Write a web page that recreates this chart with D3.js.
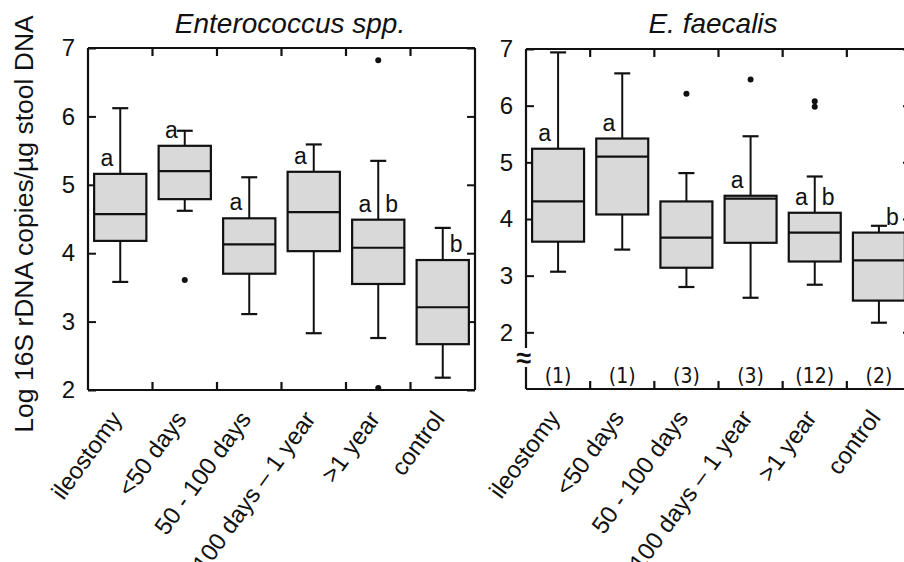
<!DOCTYPE html>
<html>
<head>
<meta charset="utf-8">
<script src="https://cdn.jsdelivr.net/npm/d3@7"></script>
<style>
  body { margin: 0; background: #fff; }
  text { font-family: "Liberation Sans", Arial, sans-serif; fill: #111; }
</style>
</head>
<body>
<div class="chart"></div>
<script>
// size of the picture
const w = 904;
const h = 562;

// categories shared by both panels
const groups = ["ileostomy", "<50 days", "50 - 100 days", "100 days \u2013 1 year", ">1 year", "control"];

// Enterococcus spp. (log copies)
const entLow    = [3.58, 4.62, 3.11, 2.83, 2.76, 2.18];
const entQ1     = [4.18, 4.79, 3.70, 4.03, 3.55, 2.67];
const entMedian = [4.57, 5.20, 4.13, 4.60, 4.08, 3.21];
const entQ3     = [5.16, 5.57, 4.51, 5.19, 4.49, 3.90];
const entHigh   = [6.12, 5.79, 5.11, 5.59, 5.35, 4.37];
const entOut    = [[], [3.61], [], [], [6.82, 2.03], []];
const entLettersL = ["a", "a", "a", "a", "a", ""];
const entLettersR = ["", "", "", "", "b", "b"];

// E. faecalis
const faeLow    = [3.07, 3.46, 2.80, 2.61, 2.84, 2.17];
const faeQ1     = [3.60, 4.08, 3.14, 3.58, 3.25, 2.56];
const faeMedian = [4.31, 5.10, 3.67, 4.36, 3.76, 3.27];
const faeQ3     = [5.24, 5.42, 4.31, 4.41, 4.11, 3.76];
const faeHigh   = [6.94, 6.57, 4.81, 5.46, 4.75, 3.88];
const faeOut    = [[], [], [6.21], [6.46], [6.08, 5.98], []];
const faeLettersL = ["a", "a", "", "a", "a", ""];
const faeLettersR = ["", "", "", "", "b", "b"];
const faeCounts = ["(1)", "(1)", "(3)", "(3)", "(12)", "(2)"];

const yTicks = [2, 3, 4, 5, 6, 7];

const svg = d3.select(".chart").append("svg")
  .attr("width", w)
  .attr("height", h)
  .style("display", "block");

svg.append("rect").attr("width", w).attr("height", h).attr("fill", "#fff");

// y axis title
svg.append("text")
  .attr("transform", "translate(33,224) rotate(-90)")
  .attr("text-anchor", "middle")
  .style("font-size", "26.5px")
  .text("Log 16S rDNA copies/\u00b5g stool DNA");

function rows(lo, q1, med, q3, hi, out, lL, lR) {
  return groups.map((g, i) => ({
    g: g, lo: lo[i], q1: q1[i], med: med[i], q3: q3[i], hi: hi[i],
    out: out[i], lL: lL[i], lR: lR[i]
  }));
}

function drawPanel(opt) {
  const x = d3.scaleBand().domain(groups).range([opt.left, opt.right]);
  const y = d3.scaleLinear().domain(opt.domain).range([opt.bottom, opt.top]);
  const g = svg.append("g");
  const bw = x.step() * 0.81;
  const cap = 16;

  // title
  g.append("text")
    .attr("x", opt.titleX)
    .attr("y", 33)
    .attr("text-anchor", "middle")
    .style("font-size", "28px")
    .style("font-style", "italic")
    .text(opt.title);

  // left axis with inward ticks
  const ax = g.append("g")
    .attr("transform", "translate(" + opt.left + ",0)")
    .call(d3.axisLeft(y).tickValues(yTicks).tickSize(-8).tickPadding(13).tickFormat(d3.format("d")));
  ax.select(".domain").remove();
  ax.selectAll("line").attr("stroke", "#111").attr("stroke-width", 2);
  ax.selectAll("text").style("font-size", "24px").attr("fill", "#111");

  // right axis ticks
  const ar = g.append("g")
    .attr("transform", "translate(" + opt.right + ",0)")
    .call(d3.axisRight(y).tickValues(yTicks).tickSize(-8).tickFormat(""));
  ar.select(".domain").remove();
  ar.selectAll("line").attr("stroke", "#111").attr("stroke-width", 2);

  // frame
  const fr = g.append("g").attr("stroke", "#111").attr("stroke-width", 2.2).attr("fill", "none");
  fr.append("line").attr("x1", opt.left).attr("x2", opt.right).attr("y1", opt.top).attr("y2", opt.top);
  fr.append("line").attr("x1", opt.left).attr("x2", opt.right).attr("y1", opt.bottom).attr("y2", opt.bottom);
  fr.append("line").attr("x1", opt.right).attr("x2", opt.right).attr("y1", opt.top).attr("y2", opt.bottom);
  if (opt.breakAt) {
    fr.append("line").attr("x1", opt.left).attr("x2", opt.left).attr("y1", opt.top).attr("y2", opt.breakAt[0]);
    fr.append("line").attr("x1", opt.left).attr("x2", opt.left).attr("y1", opt.breakAt[1]).attr("y2", opt.bottom);
    g.append("text")
      .attr("x", opt.left - 2)
      .attr("y", (opt.breakAt[0] + opt.breakAt[1]) / 2 + 9)
      .attr("text-anchor", "middle")
      .style("font-size", "27px")
      .style("font-weight", "bold")
      .text("\u2248");
  } else {
    fr.append("line").attr("x1", opt.left).attr("x2", opt.left).attr("y1", opt.top).attr("y2", opt.bottom);
  }

  // category boundary ticks
  groups.slice(1).forEach(c => {
    const xx = x(c);
    fr.append("line").attr("x1", xx).attr("x2", xx).attr("y1", opt.top).attr("y2", opt.top + 8);
    fr.append("line").attr("x1", xx).attr("x2", xx).attr("y1", opt.bottom).attr("y2", opt.bottom - 8);
  });

  const box = g.selectAll(".box")
    .data(opt.data)
    .enter().append("g")
    .attr("class", "box")
    .attr("transform", d => "translate(" + (x(d.g) + x.step() / 2) + ",0)");

  // whiskers
  box.append("line").attr("y1", d => y(d.hi)).attr("y2", d => y(d.lo))
    .attr("stroke", "#111").attr("stroke-width", 2);
  box.append("line").attr("x1", -cap / 2).attr("x2", cap / 2)
    .attr("y1", d => y(d.hi)).attr("y2", d => y(d.hi))
    .attr("stroke", "#111").attr("stroke-width", 2.2);
  box.append("line").attr("x1", -cap / 2).attr("x2", cap / 2)
    .attr("y1", d => y(d.lo)).attr("y2", d => y(d.lo))
    .attr("stroke", "#111").attr("stroke-width", 2.2);

  // box
  box.append("rect")
    .attr("x", -bw / 2).attr("width", bw)
    .attr("y", d => y(d.q3)).attr("height", d => y(d.q1) - y(d.q3))
    .attr("fill", "#d9d9d9").attr("stroke", "#111").attr("stroke-width", 2.2);
  box.append("line").attr("x1", -bw / 2).attr("x2", bw / 2)
    .attr("y1", d => y(d.med)).attr("y2", d => y(d.med))
    .attr("stroke", "#111").attr("stroke-width", 2.2);

  // outliers
  box.selectAll("circle")
    .data(d => d.out)
    .enter().append("circle")
    .attr("cy", v => y(v)).attr("r", 3).attr("fill", "#111");

  // letters
  box.append("text")
    .attr("x", -7).attr("y", d => y(d.q3) - 8)
    .attr("text-anchor", "end")
    .style("font-size", "23px")
    .text(d => d.lL);
  box.append("text")
    .attr("x", 7).attr("y", d => y(d.q3) - 8)
    .attr("text-anchor", "start")
    .style("font-size", "23px")
    .text(d => d.lR);

  // n counts
  if (opt.counts) {
    g.selectAll(".cnt")
      .data(opt.counts)
      .enter().append("text")
      .attr("x", (d, i) => x(groups[i]) + x.step() / 2)
      .attr("y", opt.bottom - 6)
      .attr("text-anchor", "middle")
      .style("font-size", "21px")
      .style("font-family", "'DejaVu Sans Condensed', 'Liberation Sans Narrow', sans-serif")
      .text(d => d);
  }

  // rotated category labels
  g.selectAll(".cat")
    .data(groups)
    .enter().append("text")
    .attr("transform", d => "translate(" + (x(d) + x.step() / 2 - 4) + "," + (opt.bottom + 24) + ") rotate(-54)")
    .attr("text-anchor", "end")
    .attr("dy", "0.35em")
    .style("font-size", "24px")
    .text(d => d);
}

drawPanel({
  title: "Enterococcus spp.", titleX: 290,
  left: 88, right: 475, top: 48, bottom: 390, domain: [2, 7],
  data: rows(entLow, entQ1, entMedian, entQ3, entHigh, entOut, entLettersL, entLettersR)
});

drawPanel({
  title: "E. faecalis", titleX: 713,
  left: 526, right: 911, top: 49, bottom: 389, domain: [1, 7],
  breakAt: [348, 367],
  counts: faeCounts,
  data: rows(faeLow, faeQ1, faeMedian, faeQ3, faeHigh, faeOut, faeLettersL, faeLettersR)
});
</script>
</body>
</html>
